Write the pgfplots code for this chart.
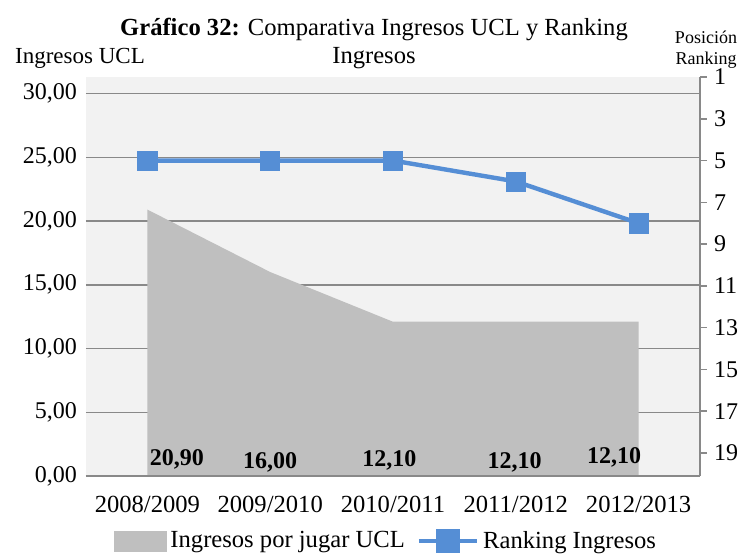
\documentclass[border=0pt]{standalone}
\usepackage{fontspec}
\setmainfont{Liberation Serif}
\usepackage{pgfplots}
\pgfplotsset{compat=1.18}
\definecolor{bgc}{HTML}{F2F2F2}
\definecolor{areac}{HTML}{BFBFBF}
\definecolor{gridc}{HTML}{898989}
\definecolor{linec}{HTML}{558ED5}
\begin{document}
\begin{tikzpicture}[x=1pt,y=1pt]
\useasboundingbox (-43,-40) rectangle (330,238);
\begin{axis}[
  at={(0,0)}, anchor=south west,
  scale only axis, width=307pt, height=199.5pt,
  xmin=-0.5, xmax=4.5, ymin=0, ymax=31.3,
  axis background/.style={fill=bgc},
  axis line style={draw=none},
  tick style={draw=none},
  ytick={0,5,...,30},
  ymajorgrids, grid style={gridc, line width=0.75pt},
  xtick={0,1,2,3,4},
  xticklabels={2008/2009,2009/2010,2010/2011,2011/2012,2012/2013},
  xticklabel style={font=\fontsize{12.3}{14}\selectfont, yshift=-6.5pt},
  yticklabel style={font=\fontsize{12}{14}\selectfont, xshift=-1pt},
  /pgf/number format/.cd, use comma, fixed, fixed zerofill, precision=2, assume math mode=true,
]
\addplot[fill=areac, draw=none] coordinates {(0,20.9) (1,16.0) (2,12.1) (3,12.1) (4,12.1)} \closedcycle;
\node[font=\bfseries\fontsize{12}{14}\selectfont] at (axis cs:0.24,1.3) {20,90};
\node[font=\bfseries\fontsize{12}{14}\selectfont] at (axis cs:1.0,1.1) {16,00};
\node[font=\bfseries\fontsize{12}{14}\selectfont] at (axis cs:1.97,1.25) {12,10};
\node[font=\bfseries\fontsize{12}{14}\selectfont] at (axis cs:2.99,1.1) {12,10};
\node[font=\bfseries\fontsize{12}{14}\selectfont] at (axis cs:3.8,1.45) {12,10};
\end{axis}
\begin{axis}[
  at={(0,0)}, anchor=south west,
  scale only axis, width=307pt, height=199.5pt,
  xmin=-0.5, xmax=4.5, ymin=1, ymax=20.1, y dir=reverse,
  axis x line*=bottom, axis y line*=right,
  axis line style={draw=gridc, line width=0.75pt},
  xtick=\empty,
  ytick={1,3,...,19},
  tick style={draw=gridc, line width=0.75pt},
  tick align=outside, major tick length=3.5pt,
  yticklabel style={font=\fontsize{12}{14}\selectfont, xshift=0pt},
  /pgf/number format/assume math mode=true,
  legend columns=2,
  legend style={at={(0.49,-0.163)}, anchor=center, draw=none, fill=none,
    font=\fontsize{12.3}{14}\selectfont,
    /tikz/every even column/.append style={column sep=4pt}},
]
\addlegendimage{area legend, legend image code/.code={\fill[areac] (-2pt,-5pt) rectangle (24pt,5pt);}}
\addlegendentry{Ingresos por jugar UCL}
\addplot[linec, line width=2.2pt, mark=square*, mark size=4.8pt, mark options={fill=linec, draw=linec, line width=0.3pt},
  legend image code/.code={\draw[linec, line width=2.2pt] (0pt,0pt) -- (29pt,0pt); \fill[linec] (9.5pt,-5pt) rectangle (19.5pt,5pt);}]
  coordinates {(0,5) (1,5) (2,5) (3,6) (4,8)};
\addlegendentry{Ranking Ingresos}
\end{axis}
\node[font=\fontsize{12.3}{14}\selectfont] at (144,223) {\textbf{Gráfico 32:} Comparativa Ingresos UCL y Ranking};
\node[font=\fontsize{12.3}{14}\selectfont] at (144,209) {Ingresos};
\node[font=\fontsize{11.5}{14}\selectfont] at (-3,209) {Ingresos UCL};
\node[font=\fontsize{9}{11}\selectfont] at (310,219.5) {Posición};
\node[font=\fontsize{9}{11}\selectfont] at (310,208) {Ranking};
\end{tikzpicture}
\end{document}
